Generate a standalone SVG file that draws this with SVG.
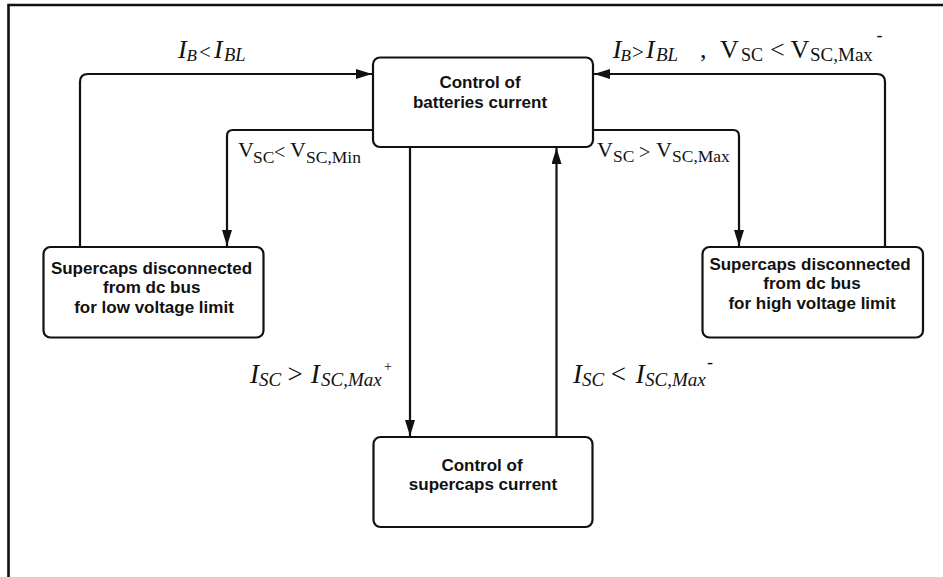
<svg xmlns="http://www.w3.org/2000/svg" width="943" height="577" viewBox="0 0 943 577">
<style>
.box{fill:#fff;stroke:#111;stroke-width:2.2}
.conn{fill:none;stroke:#111;stroke-width:2.2}
.frame{fill:none;stroke:#111;stroke-width:2.6}
.nt{font-family:"Liberation Sans",Arial,sans-serif;font-weight:bold;font-size:17px;fill:#111;text-anchor:middle}
.m{font-family:"Liberation Serif","Times New Roman",serif;fill:#111}
.it{font-style:italic}
</style>
<defs>
<marker id="ah" markerUnits="userSpaceOnUse" markerWidth="16" markerHeight="10" refX="16" refY="5" orient="auto">
<path d="M0,0 L16,5 L0,10 Z" fill="#111"/>
</marker>
</defs>
<rect width="943" height="577" fill="#fff"/>
<path class="frame" d="M8.5,577 V5 H943"/>

<g id="connectors">
<path class="conn" d="M80,247 V82 Q80,74 88,74 H372" marker-end="url(#ah)"/>
<path class="conn" d="M885,247 V82 Q885,74 877,74 H594" marker-end="url(#ah)"/>
<path class="conn" d="M373,130 H233 Q227,130 227,136 V246" marker-end="url(#ah)"/>
<path class="conn" d="M593,130 H733 Q739,130 739,136 V246" marker-end="url(#ah)"/>
<path class="conn" d="M410,147 V436" marker-end="url(#ah)"/>
<path class="conn" d="M556.5,437 V148" marker-end="url(#ah)"/>
</g>

<g id="node-batteries">
<rect class="box" x="373" y="57.5" width="220" height="89.5" rx="7"/>
<text class="nt" x="480" y="88">Control of</text>
<text class="nt" x="480" y="107.5">batteries current</text>
</g>

<g id="node-supercaps">
<rect class="box" x="373.5" y="437" width="219" height="90" rx="7"/>
<text class="nt" x="482" y="471">Control of</text>
<text class="nt" x="483" y="489.5">supercaps current</text>
</g>

<g id="node-low">
<rect class="box" x="43.5" y="247" width="220" height="90.5" rx="7"/>
<text class="nt" x="151.5" y="273.5">Supercaps disconnected</text>
<text class="nt" x="151.7" y="293">from dc bus</text>
<text class="nt" x="154" y="312.5">for low voltage limit</text>
</g>

<g id="node-high">
<rect class="box" x="702.5" y="247" width="220.5" height="90.5" rx="7"/>
<text class="nt" x="810" y="269.5">Supercaps disconnected</text>
<text class="nt" x="812" y="289">from dc bus</text>
<text class="nt" x="812" y="309">for high voltage limit</text>
</g>

<g id="labels">
<text class="m" font-size="26"><tspan class="it" x="178" y="58">I</tspan><tspan class="it" x="186.5" y="61" font-size="17">B</tspan><tspan x="199" y="59" font-size="21">&lt;</tspan><tspan class="it" x="214" y="58">I</tspan><tspan class="it" x="224" y="61" font-size="18.5">BL</tspan></text>

<text class="m" font-size="26"><tspan class="it" x="612.7" y="58">I</tspan><tspan class="it" x="620.5" y="61" font-size="17">B</tspan><tspan x="632" y="59" font-size="21">&gt;</tspan><tspan class="it" x="646" y="58">I</tspan><tspan class="it" x="656" y="61" font-size="19">BL</tspan><tspan x="700" y="58">,</tspan><tspan x="720" y="58">V</tspan><tspan x="741" y="61" font-size="18">SC</tspan><tspan x="770" y="58">&lt;</tspan><tspan x="790.5" y="58">V</tspan><tspan x="810" y="61" font-size="19">SC,Max</tspan><tspan x="876.5" y="41" font-size="18">-</tspan></text>

<text class="m" font-size="22"><tspan x="238" y="157">V</tspan><tspan x="253" y="162.5" font-size="17.5">SC</tspan><tspan x="274" y="159" font-size="20">&lt;</tspan><tspan x="290" y="157">V</tspan><tspan x="306" y="162.5" font-size="17.5">SC,Min</tspan></text>

<text class="m" font-size="22"><tspan x="597" y="157">V</tspan><tspan x="613" y="162" font-size="17.5">SC</tspan><tspan x="639" y="159" font-size="20">&gt;</tspan><tspan x="656" y="157">V</tspan><tspan x="672" y="162" font-size="17.5">SC,Max</tspan></text>

<text class="m" font-size="27"><tspan class="it" x="250" y="383">I</tspan><tspan class="it" x="259" y="386" font-size="19">SC</tspan><tspan x="287.5" y="383">&gt;</tspan><tspan class="it" x="310.7" y="383">I</tspan><tspan class="it" x="321" y="386" font-size="19">SC,Max</tspan><tspan x="384" y="371" font-size="14">+</tspan></text>

<text class="m" font-size="27"><tspan class="it" x="573" y="383">I</tspan><tspan class="it" x="582" y="386" font-size="19">SC</tspan><tspan x="610.7" y="383">&lt;</tspan><tspan class="it" x="635.7" y="383">I</tspan><tspan class="it" x="645" y="386" font-size="19">SC,Max</tspan><tspan x="707" y="368" font-size="18">-</tspan></text>
</g>
</svg>
